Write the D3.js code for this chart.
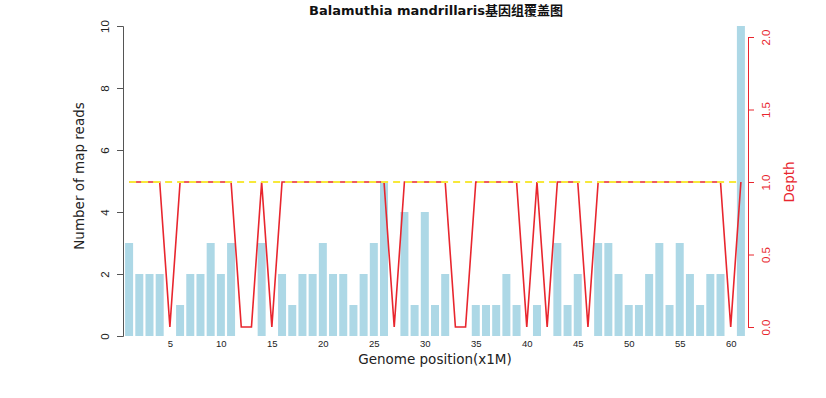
<!DOCTYPE html>
<html>
<head>
<meta charset="utf-8">
<script src="https://cdn.jsdelivr.net/npm/d3@7"></script>
<style>
  body { margin: 0; background: #fff; }
  svg { font-family: "DejaVu Sans", "Noto Sans CJK SC", sans-serif; }
</style>
</head>
<body>
<svg width="826" height="398"></svg>
<script>
// DATA

  var positions = d3.range(1, 62);
  var reads = [3, 2, 2, 2, 0, 1, 2, 2, 3, 2,
               3, 0, 0, 3, 0, 2, 1, 2, 2, 3,
               2, 2, 1, 2, 3, 5, 0, 4, 1, 4,
               1, 2, 0, 0, 1, 1, 1, 2, 1, 0,
               1, 0, 3, 1, 2, 0, 3, 3, 2, 1,
               1, 2, 3, 1, 3, 2, 1, 2, 2, 0,
               10];
  var depth = [1, 1, 1, 1, 0, 1, 1, 1, 1, 1,
               1, 0, 0, 1, 0, 1, 1, 1, 1, 1,
               1, 1, 1, 1, 1, 1, 0, 1, 1, 1,
               1, 1, 0, 0, 1, 1, 1, 1, 1, 0,
               1, 0, 1, 1, 1, 0, 1, 1, 1, 1,
               1, 1, 1, 1, 1, 1, 1, 1, 1, 0,
               1];
  var xTicks = [5, 10, 15, 20, 25, 30, 35, 40, 45, 50, 55, 60];
  var readTicks = [0, 2, 4, 6, 8, 10];
  var depthTicks = [0, 0.5, 1, 1.5, 2];
  var depthRef = 1;

// SETUP

  var svg = d3.select("svg");

  var x = d3.scaleLinear().domain([0.5, 61.5]).range([124, 746]),
      y = d3.scaleLinear().domain([0, 10]).range([336, 26]),
      y2 = d3.scaleLinear().domain([0, 2]).range([327, 37]);

  var barW = 8;

  // bars
  svg.append("g").selectAll("rect")
    .data(positions)
    .enter().append("rect")
      .attr("x", function (d) { return x(d) - barW / 2; })
      .attr("y", function (d, i) { return y(reads[i]); })
      .attr("width", barW)
      .attr("height", function (d, i) { return y(0) - y(reads[i]); })
      .attr("fill", "#add8e6");

  // depth line
  var line = d3.line()
    .x(function (d) { return x(d); })
    .y(function (d, i) { return y2(depth[i]); });

  svg.append("path")
    .datum(positions)
    .attr("d", line)
    .attr("fill", "none")
    .attr("stroke", "#e8262e")
    .attr("stroke-width", 1.6);

  // reference line at depth 1
  svg.append("line")
    .attr("x1", x(1)).attr("x2", x(61))
    .attr("y1", y2(depthRef)).attr("y2", y2(depthRef))
    .attr("stroke", "#f7e83a")
    .attr("stroke-width", 2.2)
    .attr("stroke-dasharray", "7,5");

  // left axis
  var gy = svg.append("g")
    .attr("transform", "translate(123,0)")
    .call(d3.axisLeft(y).tickValues(readTicks).tickSize(6));
  gy.select(".domain").attr("stroke", "#555");
  gy.selectAll(".tick line").attr("stroke", "#555");
  gy.selectAll("text")
    .style("font-size", "11.5px")
    .attr("fill", "#222")
    .attr("text-anchor", "middle")
    .attr("transform", "rotate(-90)")
    .attr("x", 0).attr("dy", 0)
    .attr("y", -14);

  // right axis
  var gy2 = svg.append("g")
    .attr("transform", "translate(748,0)")
    .call(d3.axisRight(y2).tickValues(depthTicks).tickSize(6)
      .tickFormat(d3.format(".1f")));
  gy2.select(".domain").attr("stroke", "#e8262e");
  gy2.selectAll(".tick line").attr("stroke", "#e8262e");
  gy2.selectAll("text")
    .style("font-size", "11.5px")
    .attr("fill", "#e8262e")
    .attr("text-anchor", "middle")
    .attr("transform", "rotate(-90)")
    .attr("x", 0).attr("dy", 0)
    .attr("y", 22);

  // bottom labels (no axis line)
  var gx = svg.append("g")
    .attr("transform", "translate(0,340)")
    .call(d3.axisBottom(x).tickValues(xTicks).tickSize(0).tickPadding(0));
  gx.select(".domain").remove();
  gx.selectAll("text")
    .style("font-size", "9.5px")
    .attr("fill", "#222")
    .attr("dy", "0.71em");

  // titles
  svg.append("text")
    .attr("x", 436).attr("y", 15)
    .attr("text-anchor", "middle")
    .style("font-size", "13px")
    .style("font-weight", "bold")
    .attr("fill", "#111")
    .text("Balamuthia mandrillaris基因组覆盖图");

  svg.append("text")
    .attr("x", 435).attr("y", 364)
    .attr("text-anchor", "middle")
    .style("font-size", "13.5px")
    .attr("fill", "#222")
    .text("Genome position(x1M)");

  svg.append("text")
    .attr("transform", "translate(84,176) rotate(-90)")
    .attr("text-anchor", "middle")
    .style("font-size", "13.5px")
    .attr("fill", "#222")
    .text("Number of map reads");

  svg.append("text")
    .attr("transform", "translate(794,182) rotate(-90)")
    .attr("text-anchor", "middle")
    .style("font-size", "13.5px")
    .attr("fill", "#e8262e")
    .text("Depth");
</script>
</body>
</html>
